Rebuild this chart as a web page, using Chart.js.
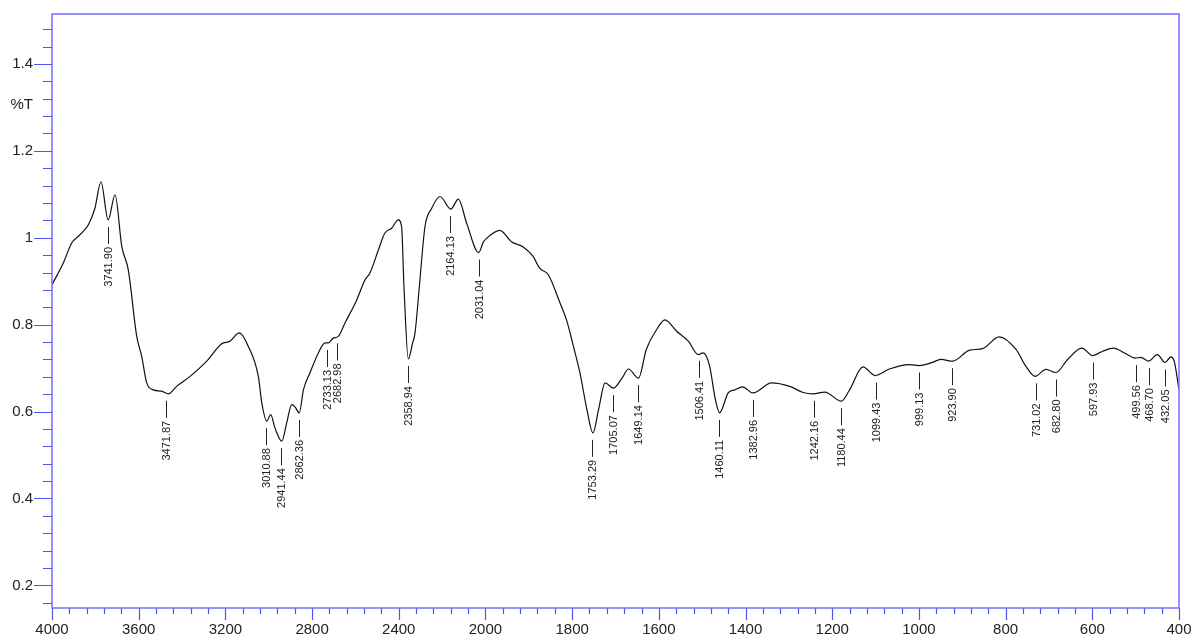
<!DOCTYPE html>
<html>
<head>
<meta charset="utf-8">
<script src="https://cdn.jsdelivr.net/npm/chart.js@4.4.1/dist/chart.umd.min.js"></script>
<style>
  body { margin: 0; background: #fff; }
  canvas { display: block; }
</style>
</head>
<body>
<canvas id="irChart" width="1191" height="639"></canvas>
<script>
/* Espectro IR: numero de onda (cm-1) y %T */
const wavenumbers = [
  4000, 3948, 3909, 3871, 3832, 3802, 3774, 3741, 3709, 3678, 3648, 3609, 3586, 3563, 3532, 3494,
  3463, 3425, 3363, 3286, 3217, 3179, 3136, 3094, 3048, 3032, 3009, 2991, 2971, 2940, 2917, 2894,
  2879, 2859, 2840, 2810, 2771, 2740, 2725, 2702, 2679, 2648, 2594, 2556, 2533, 2494, 2464, 2433,
  2402, 2387, 2376, 2356, 2336, 2325, 2305, 2279, 2248, 2210, 2160, 2125, 2087, 2031, 2010, 1997,
  1967, 1940, 1913, 1890, 1875, 1855, 1828, 1813, 1797, 1782, 1766, 1752, 1739, 1724, 1705, 1685,
  1670, 1647, 1629, 1605, 1586, 1559, 1532, 1509, 1498, 1483, 1470, 1460, 1440, 1425, 1407, 1383,
  1340, 1298, 1267, 1244, 1217, 1179, 1160, 1129, 1101, 1068, 1022, 999, 972, 949, 922, 884,
  853, 815, 776, 753, 732, 707, 684, 657, 624, 599, 576, 551, 526, 501, 488, 470,
  450, 432, 419, 411, 400
];
const transmittance = [
  0.892, 0.942, 0.988, 1.007, 1.030, 1.068, 1.129, 1.041, 1.099, 0.980, 0.926, 0.773, 0.727, 0.666, 0.650, 0.647,
  0.641, 0.658, 0.681, 0.716, 0.756, 0.762, 0.781, 0.750, 0.681, 0.620, 0.578, 0.593, 0.562, 0.532, 0.574, 0.616,
  0.611, 0.597, 0.650, 0.689, 0.735, 0.758, 0.758, 0.769, 0.773, 0.804, 0.857, 0.903, 0.919, 0.972, 1.011, 1.022,
  1.041, 1.026, 0.888, 0.721, 0.758, 0.781, 0.888, 1.026, 1.068, 1.095, 1.066, 1.089, 1.034, 0.966, 0.990, 0.999,
  1.017, 0.991, 0.979, 0.957, 0.930, 0.915, 0.850, 0.811, 0.750, 0.689, 0.605, 0.551, 0.605, 0.666, 0.654, 0.677,
  0.698, 0.677, 0.743, 0.789, 0.811, 0.785, 0.762, 0.731, 0.735, 0.705, 0.630, 0.597, 0.643, 0.650, 0.657, 0.643,
  0.666, 0.658, 0.644, 0.641, 0.645, 0.624, 0.650, 0.703, 0.683, 0.698, 0.708, 0.706, 0.712, 0.720, 0.716, 0.741,
  0.745, 0.772, 0.743, 0.704, 0.681, 0.697, 0.690, 0.720, 0.746, 0.729, 0.739, 0.746, 0.735, 0.723, 0.725, 0.716,
  0.731, 0.713, 0.726, 0.716, 0.650
];

/* Picos marcados */
const peakWavenumbers = [
  3741.90, 3471.87, 3010.88, 2941.44, 2862.36, 2733.13, 2682.98, 2358.94, 2164.13, 2031.04,
  1753.29, 1705.07, 1649.14, 1506.41, 1460.11, 1382.96, 1242.16, 1180.44, 1099.43, 999.13,
  923.90, 731.02, 682.80, 597.93, 499.56, 468.70, 432.05
];
const peakValues = [
  1.041, 0.641, 0.578, 0.532, 0.597, 0.758, 0.773, 0.721, 1.066, 0.966,
  0.551, 0.654, 0.677, 0.733, 0.597, 0.643, 0.641, 0.624, 0.683, 0.706,
  0.716, 0.681, 0.690, 0.729, 0.723, 0.716, 0.713
];

/* Etiquetas de ejes */
const xTickValues = [4000, 3600, 3200, 2800, 2400, 2000, 1800, 1600, 1400, 1200, 1000, 800, 600, 400];
const yTickValues = [0.2, 0.4, 0.6, 0.8, 1.0, 1.2, 1.4];

/* Escala del eje x: cambio de escala en 2000 cm-1 (doble por debajo) */
function toAxis(w) {
  return w >= 2000 ? 4000 - w : 2000 + 2 * (2000 - w);
}

const frameColor = 'rgb(112, 112, 255)';
const tickColor = 'rgb(80, 80, 245)';

const irFrame = {
  id: 'irFrame',
  afterDraw(chart) {
    const ctx = chart.ctx;
    const a = chart.chartArea;
    const x = chart.scales.x;
    const y = chart.scales.y;
    ctx.save();

    /* ticks x: menores cada 80 unidades, mayores cada 400 */
    ctx.strokeStyle = tickColor;
    ctx.lineWidth = 1.2;
    ctx.beginPath();
    for (let u = 0; u <= 5200; u += 80) {
      const px = Math.round(x.getPixelForValue(u)) + 0.5;
      ctx.moveTo(px, a.bottom);
      ctx.lineTo(px, a.bottom + (u % 400 === 0 ? 12 : 6));
    }
    /* ticks y cada 0.04 */
    for (let k = 4; k * 0.04 <= y.max; k++) {
      const v = k * 0.04;
      if (v < y.min) continue;
      const py = Math.round(y.getPixelForValue(v)) + 0.5;
      ctx.moveTo(a.left, py);
      ctx.lineTo(a.left - (k % 5 === 0 ? 18 : 9), py);
    }
    ctx.stroke();

    /* marco */
    ctx.strokeStyle = frameColor;
    ctx.lineWidth = 1.5;
    ctx.strokeRect(a.left, a.top, a.right - a.left, a.bottom - a.top);

    /* titulo eje y */
    ctx.fillStyle = '#222';
    ctx.font = '15px "Liberation Sans", Arial, sans-serif';
    ctx.textAlign = 'right';
    ctx.textBaseline = 'middle';
    ctx.fillText('%T', 33, y.getPixelForValue(1.305));

    /* etiquetas de picos */
    ctx.strokeStyle = '#222';
    ctx.lineWidth = 1;
    ctx.font = '11px "Liberation Sans", Arial, sans-serif';
    ctx.fillStyle = '#222';
    peakWavenumbers.forEach((w, i) => {
      const px = Math.round(x.getPixelForValue(toAxis(w))) + 0.5;
      const py = y.getPixelForValue(peakValues[i]);
      ctx.beginPath();
      ctx.moveTo(px, py + 7);
      ctx.lineTo(px, py + 24);
      ctx.stroke();
      ctx.save();
      ctx.translate(px, py + 27);
      ctx.rotate(-Math.PI / 2);
      ctx.textAlign = 'right';
      ctx.textBaseline = 'middle';
      ctx.fillText(w.toFixed(2), 0, 0);
      ctx.restore();
    });
    ctx.restore();
  }
};

const points = wavenumbers.map((w, i) => ({ x: toAxis(w), y: transmittance[i] }));

const config = {
  type: 'line',
  data: {
    datasets: [{
      data: points,
      borderColor: '#111',
      borderWidth: 1.2,
      pointRadius: 0,
      fill: false,
      cubicInterpolationMode: 'monotone'
    }]
  },
  options: {
    responsive: false,
    animation: false,
    devicePixelRatio: 1,
    layout: { padding: { top: 14, right: 12, left: 0, bottom: 0 } },
    plugins: { legend: { display: false }, tooltip: { enabled: false } },
    scales: {
      x: {
        type: 'linear',
        min: 0,
        max: 5200,
        grid: { display: false, drawTicks: false },
        border: { display: false },
        afterBuildTicks: s => { s.ticks = xTickValues.map(w => ({ value: toAxis(w) })); },
        afterFit: s => { s.height = 31; s.paddingLeft = 0; s.paddingRight = 0; },
        ticks: {
          autoSkip: false,
          maxRotation: 0,
          padding: 13,
          color: '#222',
          font: { family: '"Liberation Sans", Arial, sans-serif', size: 15 },
          callback: (v, i) => String(xTickValues[i])
        }
      },
      y: {
        min: 0.148,
        max: 1.515,
        grid: { display: false, drawTicks: false },
        border: { display: false },
        afterBuildTicks: s => { s.ticks = yTickValues.map(v => ({ value: v })); },
        afterFit: s => { s.width = 52; s.paddingTop = 0; s.paddingBottom = 0; },
        ticks: {
          padding: 19,
          color: '#222',
          font: { family: '"Liberation Sans", Arial, sans-serif', size: 15 },
          callback: (v, i) => String(yTickValues[i])
        }
      }
    }
  },
  plugins: [irFrame]
};

const myChart = new Chart(document.getElementById('irChart'), config);
</script>
</body>
</html>
